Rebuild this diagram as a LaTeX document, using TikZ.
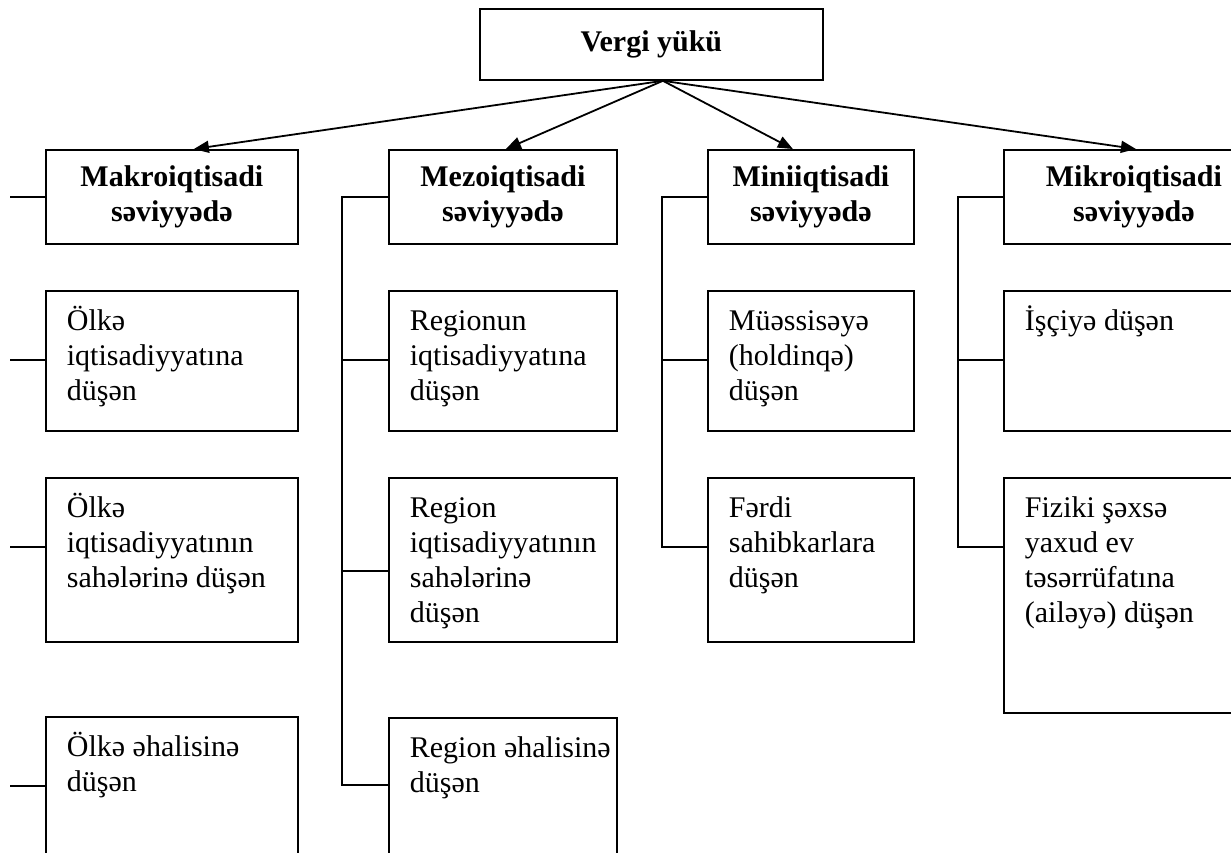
\documentclass[tikz,border=0pt]{standalone}
\usepackage{fontspec}
\setmainfont{Liberation Serif}
\usetikzlibrary{arrows.meta}

% top-aligned text inside a fixed-size box (left inset 21pt)
\newcommand{\celltext}[3]{\hspace*{21pt}\parbox[t][#2][t]{#1}{\raggedright\rule{0pt}{27pt}#3}}

\begin{document}
\begin{tikzpicture}[x=1pt, y=-1pt,
  font=\fontsize{30}{35}\selectfont,
  every path/.style={line width=1.8pt},
  head/.style={rectangle, draw, line width=1.8pt, anchor=north west,
               inner sep=0pt, font=\fontsize{30}{35}\selectfont\bfseries, align=center},
  cell/.style={rectangle, draw, line width=1.8pt, anchor=north west,
               inner xsep=0pt, inner ysep=13pt},
  arrow/.style={-{Triangle[length=15pt,width=12pt]}},
]
  \useasboundingbox (0,0) rectangle (1231,852);

  % top
  \node[head, minimum width=343pt, minimum height=71pt] (vy) at (479,8) {Vergi yükü};
  \coordinate (apex) at ([xshift=11.5pt]vy.south);

  % levels
  \node[head, minimum width=252pt, minimum height=94pt] (mak) at (45,149) {Makroiqtisadi\\səviyyədə};
  \node[head, minimum width=228pt, minimum height=94pt] (mez) at (388,149) {Mezoiqtisadi\\səviyyədə};
  \node[head, minimum width=206pt, minimum height=94pt] (mini) at (707,149) {Miniiqtisadi\\səviyyədə};
  \node[head, minimum width=260pt, minimum height=94pt] (mik) at (1003,149) {Mikroiqtisadi\\səviyyədə};

  \draw[arrow] (apex) -- ([xshift=22pt]mak.north);
  \draw[arrow] (apex) -- ([xshift=3pt]mez.north);
  \draw[arrow] (apex) -- ([xshift=-18pt]mini.north);
  \draw[arrow] (apex) -- ([xshift=2pt]mik.north);

  % makro
  \node[cell] (ol1) at (45,290) {\celltext{231pt}{114pt}{Ölkə\\iqtisadiyyatına\\düşən}};
  \node[cell] (ol2) at (45,477) {\celltext{231pt}{138pt}{Ölkə\\iqtisadiyyatının\\sahələrinə düşən}};
  \node[cell] (ol3) at (45,716) {\celltext{231pt}{174pt}{Ölkə əhalisinə\\düşən}};
  \draw (mak.west) -- ++(-35,0);
  \foreach \n in {ol1,ol2,ol3}
    \draw ([yshift=-70pt]\n.north west) -- ++(-35,0);

  % mezo
  \node[cell] (rg1) at (388,290) {\celltext{207pt}{114pt}{Regionun\\iqtisadiyyatına\\düşən}};
  \node[cell] (rg2) at (388,477) {\celltext{207pt}{138pt}{Region\\iqtisadiyyatının\\sahələrinə\\düşən}};
  \node[cell] (rg3) at (388,717) {\celltext{207pt}{174pt}{Region əhalisinə\\düşən}};
  \draw (mez.west) -- ++(-46,0) |- ([yshift=-68pt]rg3.north west);
  \draw ([yshift=-70pt]rg1.north west) -- ++(-46,0);
  \draw ([yshift=-94pt]rg2.north west) -- ++(-46,0);

  % mini
  \node[cell] (ms1) at (707,290) {\celltext{185pt}{114pt}{Müəssisəyə\\(һoldinqə)\\düşən}};
  \node[cell] (ms2) at (707,477) {\celltext{185pt}{138pt}{Fərdi\\sahibkarlara\\düşən}};
  \draw (mini.west) -- ++(-45,0) |- ([yshift=-70pt]ms2.north west);
  \draw ([yshift=-70pt]ms1.north west) -- ++(-45,0);

  % mikro
  \node[cell] (fs1) at (1003,290) {\celltext{239pt}{114pt}{İşçiyə düşən}};
  \node[cell] (fs2) at (1003,477) {\celltext{239pt}{209pt}{Fiziki şəxsə\\yaxud ev\\təsərrüfatına\\(ailəyə) düşən}};
  \draw (mik.west) -- ++(-45,0) |- ([yshift=-70pt]fs2.north west);
  \draw ([yshift=-70pt]fs1.north west) -- ++(-45,0);
\end{tikzpicture}
\end{document}
